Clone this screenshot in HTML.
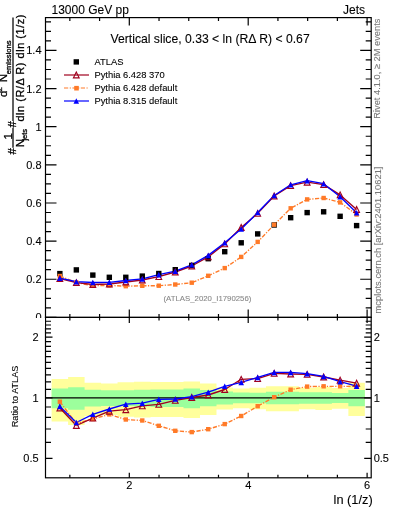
<!DOCTYPE html><html><head><meta charset="utf-8"><style>html,body{margin:0;padding:0;background:#fff;width:393px;height:512px;overflow:hidden}svg{display:block;will-change:transform}text{font-family:"Liberation Sans",sans-serif;stroke:#000;stroke-width:0.1px}text.g{fill:#777;stroke:#777}text.yl{stroke-width:0.3px}text.g2{fill:#888;stroke:#888}</style></head><body>
<svg width="393" height="512" viewBox="0 0 393 512">
<polygon points="51.62,379.10 68.10,379.10 68.10,377.10 84.59,377.10 84.59,382.70 101.07,382.70 101.08,383.50 117.56,383.50 117.56,382.20 134.05,382.20 134.05,381.70 150.53,381.70 150.53,382.00 167.02,382.00 167.02,382.00 183.50,382.00 183.50,381.40 199.99,381.40 199.99,383.40 216.48,383.40 216.48,387.50 232.96,387.50 232.96,388.50 249.45,388.50 249.45,387.70 265.94,387.70 265.94,386.20 282.42,386.20 282.42,386.20 298.91,386.20 298.91,387.70 315.39,387.70 315.39,387.00 331.88,387.00 331.88,388.00 348.37,388.00 348.37,382.70 364.85,382.70 364.85,416.06 348.37,416.06 348.37,408.84 331.88,408.84 331.88,410.12 315.39,410.12 315.39,409.22 298.91,409.22 298.91,411.18 282.42,411.18 282.42,411.18 265.94,411.18 265.94,409.22 249.45,409.22 249.45,408.21 232.96,408.21 232.96,409.48 216.48,409.48 216.48,415.05 199.99,415.05 199.99,418.00 183.50,418.00 183.50,417.10 167.02,417.10 167.02,417.10 150.53,417.10 150.53,417.55 134.05,417.55 134.05,416.80 117.56,416.80 117.56,414.91 101.08,414.91 101.07,416.06 84.59,416.06 84.59,424.97 68.10,424.97 68.10,421.62 51.62,421.62" fill="#ffff9c"/>
<polygon points="51.62,388.50 68.10,388.50 68.10,387.30 84.59,387.30 84.59,389.80 101.07,389.80 101.08,390.30 117.56,390.30 117.56,390.30 134.05,390.30 134.05,389.80 150.53,389.80 150.53,389.50 167.02,389.50 167.02,389.50 183.50,389.50 183.50,388.50 199.99,388.50 199.99,390.10 216.48,390.10 216.48,391.60 232.96,391.60 232.96,392.60 249.45,392.60 249.45,392.70 265.94,392.70 265.94,391.70 282.42,391.70 282.42,391.70 298.91,391.70 298.91,392.30 315.39,392.30 315.39,392.20 331.88,392.20 331.88,392.90 348.37,392.90 348.37,390.10 364.85,390.10 364.85,406.24 348.37,406.24 348.37,402.99 331.88,402.99 331.88,403.78 315.39,403.78 315.39,403.67 298.91,403.67 298.91,404.36 282.42,404.36 282.42,404.36 265.94,404.36 265.94,403.22 249.45,403.22 249.45,403.33 232.96,403.33 232.96,404.47 216.48,404.47 216.48,406.24 199.99,406.24 199.99,408.21 183.50,408.21 183.50,406.97 167.02,406.97 167.02,406.97 150.53,406.97 150.53,406.61 134.05,406.61 134.05,406.00 117.56,406.00 117.56,406.00 101.08,406.00 101.07,406.61 84.59,406.61 84.59,409.74 68.10,409.74 68.10,408.21 51.62,408.21" fill="#9cff9c"/>
<line x1="45.5" y1="397.8" x2="371.2" y2="397.8" stroke="#000" stroke-width="1.2"/>
<polyline points="59.86,276.00 76.35,282.50 92.83,285.80 109.32,285.40 125.80,286.20 142.29,285.80 158.78,285.70 175.26,284.50 191.75,282.70 208.23,275.80 224.72,268.10 241.21,256.90 257.69,241.90 274.18,224.70 290.66,208.30 307.15,199.40 323.64,198.00 340.12,202.40 356.61,214.50" fill="none" stroke="#ff7a28" stroke-width="1.35" stroke-dasharray="4.2,1.5,1.2,1.5" stroke-linejoin="round"/>
<polyline points="59.86,278.60 76.35,282.60 92.83,284.50 109.32,284.00 125.80,282.00 142.29,280.00 158.78,276.60 175.26,272.00 191.75,266.00 208.23,256.90 224.72,243.90 241.21,227.50 257.69,213.40 274.18,196.00 290.66,185.60 307.15,182.20 323.64,184.60 340.12,194.90 356.61,209.50" fill="none" stroke="#a0001e" stroke-width="1.35" stroke-linejoin="round"/>
<polyline points="59.86,278.20 76.35,281.70 92.83,282.50 109.32,282.30 125.80,280.50 142.29,278.90 158.78,274.60 175.26,271.20 191.75,264.80 208.23,255.40 224.72,242.80 241.21,229.00 257.69,212.50 274.18,195.50 290.66,184.80 307.15,180.60 323.64,183.70 340.12,196.70 356.61,212.70" fill="none" stroke="#0000ff" stroke-width="1.35" stroke-linejoin="round"/>
<rect x="57.16" y="270.90" width="5.4" height="5.4" fill="#000"/>
<rect x="73.65" y="267.20" width="5.4" height="5.4" fill="#000"/>
<rect x="90.13" y="272.40" width="5.4" height="5.4" fill="#000"/>
<rect x="106.62" y="274.60" width="5.4" height="5.4" fill="#000"/>
<rect x="123.10" y="274.60" width="5.4" height="5.4" fill="#000"/>
<rect x="139.59" y="273.40" width="5.4" height="5.4" fill="#000"/>
<rect x="156.08" y="270.80" width="5.4" height="5.4" fill="#000"/>
<rect x="172.56" y="267.00" width="5.4" height="5.4" fill="#000"/>
<rect x="189.05" y="262.70" width="5.4" height="5.4" fill="#000"/>
<rect x="205.53" y="256.00" width="5.4" height="5.4" fill="#000"/>
<rect x="222.02" y="249.00" width="5.4" height="5.4" fill="#000"/>
<rect x="238.51" y="240.10" width="5.4" height="5.4" fill="#000"/>
<rect x="254.99" y="231.20" width="5.4" height="5.4" fill="#000"/>
<rect x="271.48" y="222.30" width="5.4" height="5.4" fill="#000"/>
<rect x="287.96" y="215.00" width="5.4" height="5.4" fill="#000"/>
<rect x="304.45" y="209.90" width="5.4" height="5.4" fill="#000"/>
<rect x="320.94" y="209.10" width="5.4" height="5.4" fill="#000"/>
<rect x="337.42" y="213.60" width="5.4" height="5.4" fill="#000"/>
<rect x="353.91" y="222.90" width="5.4" height="5.4" fill="#000"/>
<rect x="57.66" y="273.80" width="4.4" height="4.4" fill="#ff7a28"/>
<rect x="74.15" y="280.30" width="4.4" height="4.4" fill="#ff7a28"/>
<rect x="90.63" y="283.60" width="4.4" height="4.4" fill="#ff7a28"/>
<rect x="107.12" y="283.20" width="4.4" height="4.4" fill="#ff7a28"/>
<rect x="123.60" y="284.00" width="4.4" height="4.4" fill="#ff7a28"/>
<rect x="140.09" y="283.60" width="4.4" height="4.4" fill="#ff7a28"/>
<rect x="156.58" y="283.50" width="4.4" height="4.4" fill="#ff7a28"/>
<rect x="173.06" y="282.30" width="4.4" height="4.4" fill="#ff7a28"/>
<rect x="189.55" y="280.50" width="4.4" height="4.4" fill="#ff7a28"/>
<rect x="206.03" y="273.60" width="4.4" height="4.4" fill="#ff7a28"/>
<rect x="222.52" y="265.90" width="4.4" height="4.4" fill="#ff7a28"/>
<rect x="239.01" y="254.70" width="4.4" height="4.4" fill="#ff7a28"/>
<rect x="255.49" y="239.70" width="4.4" height="4.4" fill="#ff7a28"/>
<rect x="271.98" y="222.50" width="4.4" height="4.4" fill="#ff7a28"/>
<rect x="288.46" y="206.10" width="4.4" height="4.4" fill="#ff7a28"/>
<rect x="304.95" y="197.20" width="4.4" height="4.4" fill="#ff7a28"/>
<rect x="321.44" y="195.80" width="4.4" height="4.4" fill="#ff7a28"/>
<rect x="337.92" y="200.20" width="4.4" height="4.4" fill="#ff7a28"/>
<rect x="354.41" y="212.30" width="4.4" height="4.4" fill="#ff7a28"/>
<polygon points="59.86,275.70 56.96,281.50 62.76,281.50" fill="none" stroke="#a0001e" stroke-width="1.1" stroke-linejoin="miter"/>
<polygon points="76.35,279.70 73.45,285.50 79.25,285.50" fill="none" stroke="#a0001e" stroke-width="1.1" stroke-linejoin="miter"/>
<polygon points="92.83,281.60 89.93,287.40 95.73,287.40" fill="none" stroke="#a0001e" stroke-width="1.1" stroke-linejoin="miter"/>
<polygon points="109.32,281.10 106.42,286.90 112.22,286.90" fill="none" stroke="#a0001e" stroke-width="1.1" stroke-linejoin="miter"/>
<polygon points="125.80,279.10 122.90,284.90 128.70,284.90" fill="none" stroke="#a0001e" stroke-width="1.1" stroke-linejoin="miter"/>
<polygon points="142.29,277.10 139.39,282.90 145.19,282.90" fill="none" stroke="#a0001e" stroke-width="1.1" stroke-linejoin="miter"/>
<polygon points="158.78,273.70 155.88,279.50 161.68,279.50" fill="none" stroke="#a0001e" stroke-width="1.1" stroke-linejoin="miter"/>
<polygon points="175.26,269.10 172.36,274.90 178.16,274.90" fill="none" stroke="#a0001e" stroke-width="1.1" stroke-linejoin="miter"/>
<polygon points="191.75,263.10 188.85,268.90 194.65,268.90" fill="none" stroke="#a0001e" stroke-width="1.1" stroke-linejoin="miter"/>
<polygon points="208.23,254.00 205.33,259.80 211.13,259.80" fill="none" stroke="#a0001e" stroke-width="1.1" stroke-linejoin="miter"/>
<polygon points="224.72,241.00 221.82,246.80 227.62,246.80" fill="none" stroke="#a0001e" stroke-width="1.1" stroke-linejoin="miter"/>
<polygon points="241.21,224.60 238.31,230.40 244.11,230.40" fill="none" stroke="#a0001e" stroke-width="1.1" stroke-linejoin="miter"/>
<polygon points="257.69,210.50 254.79,216.30 260.59,216.30" fill="none" stroke="#a0001e" stroke-width="1.1" stroke-linejoin="miter"/>
<polygon points="274.18,193.10 271.28,198.90 277.08,198.90" fill="none" stroke="#a0001e" stroke-width="1.1" stroke-linejoin="miter"/>
<polygon points="290.66,182.70 287.76,188.50 293.56,188.50" fill="none" stroke="#a0001e" stroke-width="1.1" stroke-linejoin="miter"/>
<polygon points="307.15,179.30 304.25,185.10 310.05,185.10" fill="none" stroke="#a0001e" stroke-width="1.1" stroke-linejoin="miter"/>
<polygon points="323.64,181.70 320.74,187.50 326.54,187.50" fill="none" stroke="#a0001e" stroke-width="1.1" stroke-linejoin="miter"/>
<polygon points="340.12,192.00 337.22,197.80 343.02,197.80" fill="none" stroke="#a0001e" stroke-width="1.1" stroke-linejoin="miter"/>
<polygon points="356.61,206.60 353.71,212.40 359.51,212.40" fill="none" stroke="#a0001e" stroke-width="1.1" stroke-linejoin="miter"/>
<polygon points="59.86,275.40 57.06,281.00 62.66,281.00" fill="#0000ff"/>
<polygon points="76.35,278.90 73.55,284.50 79.15,284.50" fill="#0000ff"/>
<polygon points="92.83,279.70 90.03,285.30 95.63,285.30" fill="#0000ff"/>
<polygon points="109.32,279.50 106.52,285.10 112.12,285.10" fill="#0000ff"/>
<polygon points="125.80,277.70 123.00,283.30 128.60,283.30" fill="#0000ff"/>
<polygon points="142.29,276.10 139.49,281.70 145.09,281.70" fill="#0000ff"/>
<polygon points="158.78,271.80 155.98,277.40 161.58,277.40" fill="#0000ff"/>
<polygon points="175.26,268.40 172.46,274.00 178.06,274.00" fill="#0000ff"/>
<polygon points="191.75,262.00 188.95,267.60 194.55,267.60" fill="#0000ff"/>
<polygon points="208.23,252.60 205.43,258.20 211.03,258.20" fill="#0000ff"/>
<polygon points="224.72,240.00 221.92,245.60 227.52,245.60" fill="#0000ff"/>
<polygon points="241.21,226.20 238.41,231.80 244.01,231.80" fill="#0000ff"/>
<polygon points="257.69,209.70 254.89,215.30 260.49,215.30" fill="#0000ff"/>
<polygon points="274.18,192.70 271.38,198.30 276.98,198.30" fill="#0000ff"/>
<polygon points="290.66,182.00 287.86,187.60 293.46,187.60" fill="#0000ff"/>
<polygon points="307.15,177.80 304.35,183.40 309.95,183.40" fill="#0000ff"/>
<polygon points="323.64,180.90 320.84,186.50 326.44,186.50" fill="#0000ff"/>
<polygon points="340.12,193.90 337.32,199.50 342.92,199.50" fill="#0000ff"/>
<polygon points="356.61,209.90 353.81,215.50 359.41,215.50" fill="#0000ff"/>
<polyline points="59.86,401.70 76.35,423.50 92.83,419.00 109.32,414.40 125.80,419.50 142.29,420.50 158.78,425.80 175.26,430.80 191.75,432.10 208.23,429.20 224.72,424.10 241.21,416.00 257.69,406.20 274.18,397.20 290.66,389.70 307.15,386.60 323.64,386.30 340.12,386.30 356.61,386.30" fill="none" stroke="#ff7a28" stroke-width="1.35" stroke-dasharray="4.2,1.5,1.2,1.5" stroke-linejoin="round"/>
<polyline points="59.86,408.00 76.35,425.50 92.83,418.10 109.32,411.20 125.80,409.70 142.29,405.80 158.78,404.40 175.26,400.30 191.75,397.50 208.23,395.00 224.72,389.50 241.21,379.30 257.69,378.60 274.18,373.40 290.66,374.00 307.15,374.40 323.64,377.00 340.12,380.20 356.61,383.20" fill="none" stroke="#a0001e" stroke-width="1.35" stroke-linejoin="round"/>
<polyline points="59.86,406.40 76.35,422.50 92.83,414.30 109.32,409.00 125.80,404.20 142.29,403.20 158.78,399.30 175.26,399.00 191.75,396.70 208.23,392.20 224.72,386.30 241.21,382.40 257.69,377.40 274.18,372.40 290.66,372.40 307.15,373.60 323.64,376.40 340.12,381.70 356.61,386.10" fill="none" stroke="#0000ff" stroke-width="1.35" stroke-linejoin="round"/>
<rect x="57.66" y="399.50" width="4.4" height="4.4" fill="#ff7a28"/>
<rect x="74.15" y="421.30" width="4.4" height="4.4" fill="#ff7a28"/>
<rect x="90.63" y="416.80" width="4.4" height="4.4" fill="#ff7a28"/>
<rect x="107.12" y="412.20" width="4.4" height="4.4" fill="#ff7a28"/>
<rect x="123.60" y="417.30" width="4.4" height="4.4" fill="#ff7a28"/>
<rect x="140.09" y="418.30" width="4.4" height="4.4" fill="#ff7a28"/>
<rect x="156.58" y="423.60" width="4.4" height="4.4" fill="#ff7a28"/>
<rect x="173.06" y="428.60" width="4.4" height="4.4" fill="#ff7a28"/>
<rect x="189.55" y="429.90" width="4.4" height="4.4" fill="#ff7a28"/>
<rect x="206.03" y="427.00" width="4.4" height="4.4" fill="#ff7a28"/>
<rect x="222.52" y="421.90" width="4.4" height="4.4" fill="#ff7a28"/>
<rect x="239.01" y="413.80" width="4.4" height="4.4" fill="#ff7a28"/>
<rect x="255.49" y="404.00" width="4.4" height="4.4" fill="#ff7a28"/>
<rect x="271.98" y="395.00" width="4.4" height="4.4" fill="#ff7a28"/>
<rect x="288.46" y="387.50" width="4.4" height="4.4" fill="#ff7a28"/>
<rect x="304.95" y="384.40" width="4.4" height="4.4" fill="#ff7a28"/>
<rect x="321.44" y="384.10" width="4.4" height="4.4" fill="#ff7a28"/>
<rect x="337.92" y="384.10" width="4.4" height="4.4" fill="#ff7a28"/>
<rect x="354.41" y="384.10" width="4.4" height="4.4" fill="#ff7a28"/>
<polygon points="59.86,405.10 56.96,410.90 62.76,410.90" fill="none" stroke="#a0001e" stroke-width="1.1" stroke-linejoin="miter"/>
<polygon points="76.35,422.60 73.45,428.40 79.25,428.40" fill="none" stroke="#a0001e" stroke-width="1.1" stroke-linejoin="miter"/>
<polygon points="92.83,415.20 89.93,421.00 95.73,421.00" fill="none" stroke="#a0001e" stroke-width="1.1" stroke-linejoin="miter"/>
<polygon points="109.32,408.30 106.42,414.10 112.22,414.10" fill="none" stroke="#a0001e" stroke-width="1.1" stroke-linejoin="miter"/>
<polygon points="125.80,406.80 122.90,412.60 128.70,412.60" fill="none" stroke="#a0001e" stroke-width="1.1" stroke-linejoin="miter"/>
<polygon points="142.29,402.90 139.39,408.70 145.19,408.70" fill="none" stroke="#a0001e" stroke-width="1.1" stroke-linejoin="miter"/>
<polygon points="158.78,401.50 155.88,407.30 161.68,407.30" fill="none" stroke="#a0001e" stroke-width="1.1" stroke-linejoin="miter"/>
<polygon points="175.26,397.40 172.36,403.20 178.16,403.20" fill="none" stroke="#a0001e" stroke-width="1.1" stroke-linejoin="miter"/>
<polygon points="191.75,394.60 188.85,400.40 194.65,400.40" fill="none" stroke="#a0001e" stroke-width="1.1" stroke-linejoin="miter"/>
<polygon points="208.23,392.10 205.33,397.90 211.13,397.90" fill="none" stroke="#a0001e" stroke-width="1.1" stroke-linejoin="miter"/>
<polygon points="224.72,386.60 221.82,392.40 227.62,392.40" fill="none" stroke="#a0001e" stroke-width="1.1" stroke-linejoin="miter"/>
<polygon points="241.21,376.40 238.31,382.20 244.11,382.20" fill="none" stroke="#a0001e" stroke-width="1.1" stroke-linejoin="miter"/>
<polygon points="257.69,375.70 254.79,381.50 260.59,381.50" fill="none" stroke="#a0001e" stroke-width="1.1" stroke-linejoin="miter"/>
<polygon points="274.18,370.50 271.28,376.30 277.08,376.30" fill="none" stroke="#a0001e" stroke-width="1.1" stroke-linejoin="miter"/>
<polygon points="290.66,371.10 287.76,376.90 293.56,376.90" fill="none" stroke="#a0001e" stroke-width="1.1" stroke-linejoin="miter"/>
<polygon points="307.15,371.50 304.25,377.30 310.05,377.30" fill="none" stroke="#a0001e" stroke-width="1.1" stroke-linejoin="miter"/>
<polygon points="323.64,374.10 320.74,379.90 326.54,379.90" fill="none" stroke="#a0001e" stroke-width="1.1" stroke-linejoin="miter"/>
<polygon points="340.12,377.30 337.22,383.10 343.02,383.10" fill="none" stroke="#a0001e" stroke-width="1.1" stroke-linejoin="miter"/>
<polygon points="356.61,380.30 353.71,386.10 359.51,386.10" fill="none" stroke="#a0001e" stroke-width="1.1" stroke-linejoin="miter"/>
<polygon points="59.86,403.60 57.06,409.20 62.66,409.20" fill="#0000ff"/>
<polygon points="76.35,419.70 73.55,425.30 79.15,425.30" fill="#0000ff"/>
<polygon points="92.83,411.50 90.03,417.10 95.63,417.10" fill="#0000ff"/>
<polygon points="109.32,406.20 106.52,411.80 112.12,411.80" fill="#0000ff"/>
<polygon points="125.80,401.40 123.00,407.00 128.60,407.00" fill="#0000ff"/>
<polygon points="142.29,400.40 139.49,406.00 145.09,406.00" fill="#0000ff"/>
<polygon points="158.78,396.50 155.98,402.10 161.58,402.10" fill="#0000ff"/>
<polygon points="175.26,396.20 172.46,401.80 178.06,401.80" fill="#0000ff"/>
<polygon points="191.75,393.90 188.95,399.50 194.55,399.50" fill="#0000ff"/>
<polygon points="208.23,389.40 205.43,395.00 211.03,395.00" fill="#0000ff"/>
<polygon points="224.72,383.50 221.92,389.10 227.52,389.10" fill="#0000ff"/>
<polygon points="241.21,379.60 238.41,385.20 244.01,385.20" fill="#0000ff"/>
<polygon points="257.69,374.60 254.89,380.20 260.49,380.20" fill="#0000ff"/>
<polygon points="274.18,369.60 271.38,375.20 276.98,375.20" fill="#0000ff"/>
<polygon points="290.66,369.60 287.86,375.20 293.46,375.20" fill="#0000ff"/>
<polygon points="307.15,370.80 304.35,376.40 309.95,376.40" fill="#0000ff"/>
<polygon points="323.64,373.60 320.84,379.20 326.44,379.20" fill="#0000ff"/>
<polygon points="340.12,378.90 337.32,384.50 342.92,384.50" fill="#0000ff"/>
<polygon points="356.61,383.30 353.81,388.90 359.41,388.90" fill="#0000ff"/>
<rect x="45.5" y="17.6" width="325.7" height="299.79999999999995" fill="none" stroke="#000" stroke-width="1.2"/>
<rect x="45.5" y="317.4" width="325.7" height="160.40000000000003" fill="none" stroke="#000" stroke-width="1.2"/>
<path d="M45.50 317.40L56.50 317.40 M371.20 317.40L360.20 317.40 M45.50 307.86L51.00 307.86 M371.20 307.86L365.70 307.86 M45.50 298.33L51.00 298.33 M371.20 298.33L365.70 298.33 M45.50 288.79L51.00 288.79 M371.20 288.79L365.70 288.79 M45.50 279.26L56.50 279.26 M371.20 279.26L360.20 279.26 M45.50 269.72L51.00 269.72 M371.20 269.72L365.70 269.72 M45.50 260.19L51.00 260.19 M371.20 260.19L365.70 260.19 M45.50 250.65L51.00 250.65 M371.20 250.65L365.70 250.65 M45.50 241.12L56.50 241.12 M371.20 241.12L360.20 241.12 M45.50 231.58L51.00 231.58 M371.20 231.58L365.70 231.58 M45.50 222.05L51.00 222.05 M371.20 222.05L365.70 222.05 M45.50 212.51L51.00 212.51 M371.20 212.51L365.70 212.51 M45.50 202.98L56.50 202.98 M371.20 202.98L360.20 202.98 M45.50 193.44L51.00 193.44 M371.20 193.44L365.70 193.44 M45.50 183.91L51.00 183.91 M371.20 183.91L365.70 183.91 M45.50 174.38L51.00 174.38 M371.20 174.38L365.70 174.38 M45.50 164.84L56.50 164.84 M371.20 164.84L360.20 164.84 M45.50 155.30L51.00 155.30 M371.20 155.30L365.70 155.30 M45.50 145.77L51.00 145.77 M371.20 145.77L365.70 145.77 M45.50 136.23L51.00 136.23 M371.20 136.23L365.70 136.23 M45.50 126.70L56.50 126.70 M371.20 126.70L360.20 126.70 M45.50 117.16L51.00 117.16 M371.20 117.16L365.70 117.16 M45.50 107.63L51.00 107.63 M371.20 107.63L365.70 107.63 M45.50 98.09L51.00 98.09 M371.20 98.09L365.70 98.09 M45.50 88.56L56.50 88.56 M371.20 88.56L360.20 88.56 M45.50 79.02L51.00 79.02 M371.20 79.02L365.70 79.02 M45.50 69.49L51.00 69.49 M371.20 69.49L365.70 69.49 M45.50 59.95L51.00 59.95 M371.20 59.95L365.70 59.95 M45.50 50.42L56.50 50.42 M371.20 50.42L360.20 50.42 M45.50 40.88L51.00 40.88 M371.20 40.88L365.70 40.88 M45.50 31.35L51.00 31.35 M371.20 31.35L365.70 31.35 M45.50 21.81L51.00 21.81 M371.20 21.81L365.70 21.81 M69.85 17.60L69.85 20.90 M69.85 317.40L69.85 314.10 M69.85 317.40L69.85 320.40 M69.85 477.80L69.85 474.80 M99.58 17.60L99.58 20.90 M99.58 317.40L99.58 314.10 M99.58 317.40L99.58 320.40 M99.58 477.80L99.58 474.80 M129.30 17.60L129.30 25.60 M129.30 317.40L129.30 309.40 M129.30 317.40L129.30 322.90 M129.30 477.80L129.30 472.80 M159.03 17.60L159.03 20.90 M159.03 317.40L159.03 314.10 M159.03 317.40L159.03 320.40 M159.03 477.80L159.03 474.80 M188.75 17.60L188.75 20.90 M188.75 317.40L188.75 314.10 M188.75 317.40L188.75 320.40 M188.75 477.80L188.75 474.80 M218.48 17.60L218.48 20.90 M218.48 317.40L218.48 314.10 M218.48 317.40L218.48 320.40 M218.48 477.80L218.48 474.80 M248.20 17.60L248.20 25.60 M248.20 317.40L248.20 309.40 M248.20 317.40L248.20 322.90 M248.20 477.80L248.20 472.80 M277.93 17.60L277.93 20.90 M277.93 317.40L277.93 314.10 M277.93 317.40L277.93 320.40 M277.93 477.80L277.93 474.80 M307.65 17.60L307.65 20.90 M307.65 317.40L307.65 314.10 M307.65 317.40L307.65 320.40 M307.65 477.80L307.65 474.80 M337.38 17.60L337.38 20.90 M337.38 317.40L337.38 314.10 M337.38 317.40L337.38 320.40 M337.38 477.80L337.38 474.80 M367.10 17.60L367.10 25.60 M367.10 317.40L367.10 309.40 M367.10 317.40L367.10 322.90 M367.10 477.80L367.10 472.80 M45.50 458.40L52.50 458.40 M371.20 458.40L364.20 458.40 M45.50 442.46L51.00 442.46 M371.20 442.46L365.70 442.46 M45.50 428.98L51.00 428.98 M371.20 428.98L365.70 428.98 M45.50 417.31L51.00 417.31 M371.20 417.31L365.70 417.31 M45.50 407.01L51.00 407.01 M371.20 407.01L365.70 407.01 M45.50 397.80L52.50 397.80 M371.20 397.80L364.20 397.80 M45.50 389.47L51.00 389.47 M371.20 389.47L365.70 389.47 M45.50 381.86L51.00 381.86 M371.20 381.86L365.70 381.86 M45.50 374.86L51.00 374.86 M371.20 374.86L365.70 374.86 M45.50 368.38L51.00 368.38 M371.20 368.38L365.70 368.38 M45.50 362.35L51.00 362.35 M371.20 362.35L365.70 362.35 M45.50 356.71L51.00 356.71 M371.20 356.71L365.70 356.71 M45.50 351.41L51.00 351.41 M371.20 351.41L365.70 351.41 M45.50 346.41L51.00 346.41 M371.20 346.41L365.70 346.41 M45.50 341.69L51.00 341.69 M371.20 341.69L365.70 341.69 M45.50 337.20L52.50 337.20 M371.20 337.20L364.20 337.20 M45.50 332.94L51.00 332.94 M371.20 332.94L365.70 332.94 M45.50 328.87L51.00 328.87 M371.20 328.87L365.70 328.87 M45.50 324.98L51.00 324.98 M371.20 324.98L365.70 324.98 M45.50 321.26L51.00 321.26 M371.20 321.26L365.70 321.26" stroke="#000" stroke-width="1.2" fill="none"/>
<text x="41.5" y="321.40" font-size="11" text-anchor="end">0</text>
<text x="41.5" y="283.26" font-size="11" text-anchor="end">0.2</text>
<text x="41.5" y="245.12" font-size="11" text-anchor="end">0.4</text>
<text x="41.5" y="206.98" font-size="11" text-anchor="end">0.6</text>
<text x="41.5" y="168.84" font-size="11" text-anchor="end">0.8</text>
<text x="41.5" y="130.70" font-size="11" text-anchor="end">1</text>
<text x="41.5" y="92.56" font-size="11" text-anchor="end">1.2</text>
<text x="41.5" y="54.42" font-size="11" text-anchor="end">1.4</text>
<rect x="0" y="318.0" width="45" height="10" fill="#fff"/>
<text x="38.6" y="341.20" font-size="11" text-anchor="end">2</text>
<text x="373.7" y="341.20" font-size="11">2</text>
<text x="38.6" y="401.80" font-size="11" text-anchor="end">1</text>
<text x="373.7" y="401.80" font-size="11">1</text>
<text x="38.6" y="462.40" font-size="11" text-anchor="end">0.5</text>
<text x="373.7" y="462.40" font-size="11">0.5</text>
<text x="129.30" y="489" font-size="11" text-anchor="middle">2</text>
<text x="248.20" y="489" font-size="11" text-anchor="middle">4</text>
<text x="367.10" y="489" font-size="11" text-anchor="middle">6</text>
<text x="333.6" y="503.6" font-size="12" textLength="39.1" lengthAdjust="spacingAndGlyphs">ln (1/z)</text>
<text x="51.5" y="14.1" font-size="12">13000 GeV pp</text>
<text x="365" y="14.1" font-size="12" text-anchor="end">Jets</text>
<text x="110.5" y="43.4" font-size="12.2">Vertical slice, 0.33 &lt; ln (R&#916; R) &lt; 0.67</text>
<text x="163.5" y="301.2" font-size="7.8" class="g2">(ATLAS_2020_I1790256)</text>
<rect x="73.60" y="59.20" width="5.4" height="5.4" fill="#000"/>
<line x1="64" y1="75" x2="89" y2="75" stroke="#a0001e" stroke-width="1.2"/>
<polygon points="76.30,72.10 73.40,77.90 79.20,77.90" fill="none" stroke="#a0001e" stroke-width="1.1" stroke-linejoin="miter"/>
<line x1="64" y1="88" x2="89" y2="88" stroke="#ff7a28" stroke-width="1.2" stroke-dasharray="4.2,1.5,1.2,1.5"/>
<rect x="74.20" y="85.90" width="4.6" height="4.6" fill="#ff7a28"/>
<line x1="64" y1="101" x2="89" y2="101" stroke="#0000ff" stroke-width="1.2"/>
<polygon points="76.30,98.20 73.50,103.80 79.10,103.80" fill="#0000ff"/>
<text x="94.4" y="65.30" font-size="9.4">ATLAS</text>
<text x="94.4" y="78.30" font-size="9.4">Pythia 6.428 370</text>
<text x="94.4" y="91.30" font-size="9.4">Pythia 6.428 default</text>
<text x="94.4" y="104.30" font-size="9.4">Pythia 8.315 default</text>
<text transform="translate(380.2,118.8) rotate(-90)" font-size="9.3" class="g">Rivet 4.1.0, &#8805; 2M events</text>
<text transform="translate(381,313.5) rotate(-90)" font-size="9.4" class="g">mcplots.cern.ch [arXiv:2401.10621]</text>
<g style="stroke-width:0.3px">
<text class="yl" transform="translate(15.8,154.6) rotate(-90)" font-size="11.5">#</text>
<text class="yl" transform="translate(16.1,127.6) rotate(-90)" font-size="11.5">#</text>
<text class="yl" transform="translate(11.8,139.5) rotate(-90)" font-size="11.5">1</text>
<line x1="13" y1="127.7" x2="13" y2="147.7" stroke="#000" stroke-width="1.25"/>
<text class="yl" transform="translate(23.8,147.2) rotate(-90)" font-size="11.5">N</text>
<text class="yl" transform="translate(27.0,140.6) rotate(-90)" font-size="7.5">jets</text>
<line x1="13" y1="17.4" x2="13" y2="120.9" stroke="#000" stroke-width="1.25"/>
<text class="yl" transform="translate(7.3,97.1) rotate(-90)" font-size="11.5">d</text>
<text class="yl" transform="translate(1.9,91.4) rotate(-90)" font-size="8">2</text>
<text class="yl" transform="translate(7.1,82.3) rotate(-90)" font-size="11.5">N</text>
<text class="yl" transform="translate(10.7,74.2) rotate(-90)" font-size="7.6">emissions</text>
<text class="yl" transform="translate(24.0,121.5) rotate(-90) scale(0.95,1)" font-size="11.5" textLength="112.5" lengthAdjust="spacing">dln (R/&#916; R) dln (1/z)</text>
</g>
<text transform="translate(17.9,427.2) rotate(-90)" font-size="9.1">Ratio to ATLAS</text>
</svg></body></html>
